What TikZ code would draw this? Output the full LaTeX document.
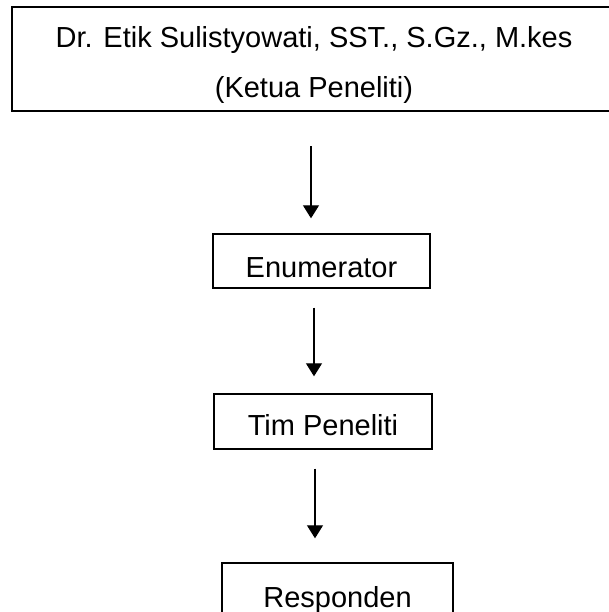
\documentclass[tikz,border=0pt]{standalone}
\usepackage{fontspec}
\setmainfont{Liberation Sans}
\usetikzlibrary{arrows.meta}
\tikzstyle{ketuabox} = [rectangle, draw=black, line width=1pt, minimum width=302pt, inner xsep=0pt, inner ysep=0pt, text height=45pt, text depth=7pt, align=center, anchor=base, font=\fontsize{14.5pt}{25pt}\selectfont]
\tikzstyle{process} = [rectangle, draw=black, line width=0.7pt, inner xsep=0pt, inner ysep=0pt, text height=21.5pt, text depth=5.5pt, anchor=base, font=\fontsize{14.5pt}{25pt}\selectfont]
\tikzstyle{arrow} = [line width=0.6pt, -{Triangle[length=6.5pt, width=8pt]}]

\begin{document}
\begin{tikzpicture}[x=0.5pt, y=-0.5pt]
\useasboundingbox (0,0) rectangle (609,612);

% Nodes
\node (ketua) [ketuabox] at (314,97) {Dr. Etik Sulistyowati, SST., S.Gz., M.kes\\(Ketua Peneliti)};
\node (enum) [process, minimum width=108.5pt] at (321.5,277) {Enumerator};
\node (tim) [process, minimum width=109pt, text height=20.5pt, text depth=7pt] at (323,435) {Tim Peneliti};
\node (resp) [process, minimum width=115.5pt, text height=22pt] at (337.5,607) {Responden};

% Arrows
\draw [arrow, shorten <=17pt, shorten >=7.5pt] ([xshift=-1.5pt]ketua.south) -- ([xshift=-1.5pt]ketua.south |- enum.north);
\draw [arrow, shorten <=9.5pt, shorten >=8.5pt] ([xshift=-3.75pt]enum.south) -- ([xshift=-3.75pt]enum.south |- tim.north);
\draw [arrow, shorten <=9.5pt, shorten >=12pt] ([xshift=-4pt]tim.south) -- ([xshift=-4pt]tim.south |- resp.north);

\end{tikzpicture}
\end{document}
